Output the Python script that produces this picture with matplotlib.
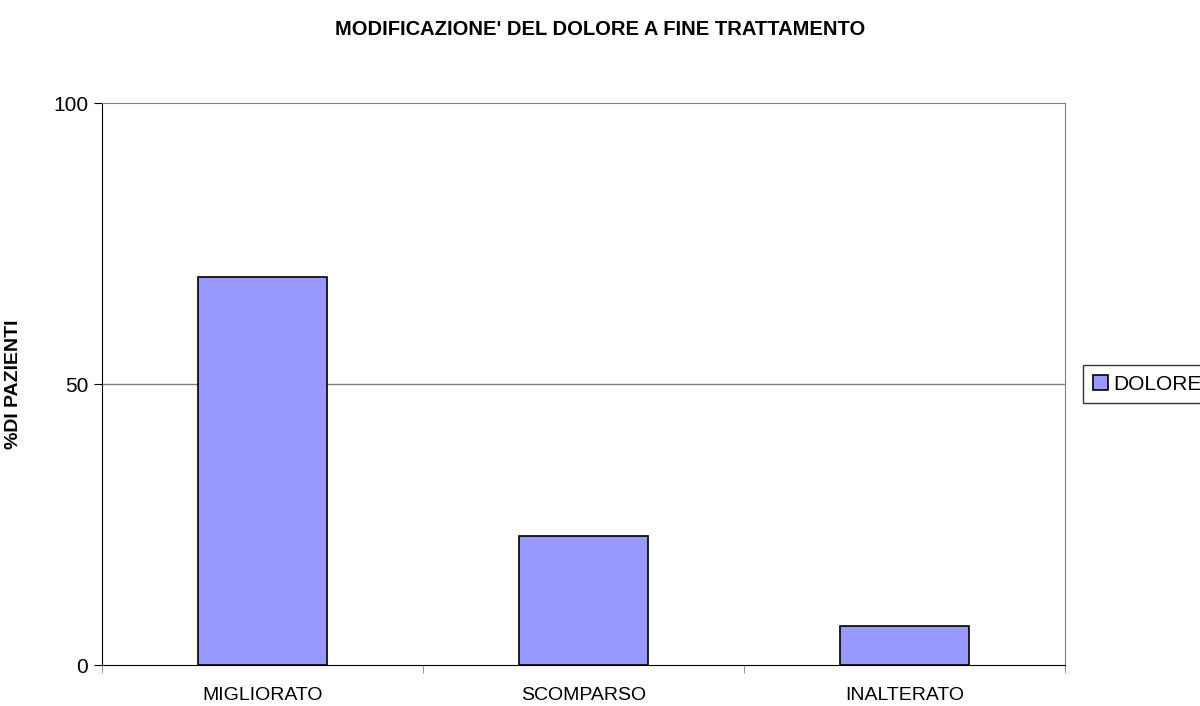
import numpy as np
import matplotlib.pyplot as plt

categories = ["MIGLIORATO", "SCOMPARSO", "INALTERATO"]
dolore = [69, 23, 7]

plt.rcParams['font.family'] = ['Liberation Sans', 'DejaVu Sans']

fig = plt.figure(figsize=(12, 7.06), dpi=100)
ax = fig.add_axes([0.085, 0.058, 0.8025, 0.796])

x = np.arange(len(categories))
ax.bar(x, dolore, width=0.4, color='#9999ff', edgecolor='black', linewidth=1.2,
       label='DOLORE', zorder=3)

ax.set_xlim(-0.5, 2.5)
ax.set_ylim(0, 100)
ax.set_yticks([0, 50, 100])
ax.set_xticks(x)
ax.set_xticklabels(categories, fontsize=14)
ax.set_xticks([-0.5, 0.5, 1.5, 2.5], minor=True)
ax.tick_params(axis='x', which='major', length=0, pad=16)
ax.tick_params(axis='x', which='minor', length=6, color='#808080')
ax.tick_params(axis='y', labelsize=15, length=6, color='black', pad=4)
ax.axhline(50, color='#808080', linewidth=1, zorder=1)

for side in ['top', 'right']:
    ax.spines[side].set_color('#808080')
for side in ['left', 'bottom']:
    ax.spines[side].set_color('black')

ax.set_ylabel('%DI PAZIENTI', fontsize=14, fontweight='bold')
ax.yaxis.set_label_coords(-0.083, 0.5)
fig.text(0.5, 0.958, "MODIFICAZIONE' DEL DOLORE A FINE TRATTAMENTO",
         ha='center', va='center', fontsize=14.5, fontweight='bold')

leg = ax.legend(loc='center left', bbox_to_anchor=(1.019, 0.5), fontsize=15,
                frameon=True, fancybox=False, edgecolor='black',
                handlelength=0.75, handleheight=0.75, handletextpad=0.25,
                borderpad=0.45, borderaxespad=0)
leg.get_frame().set_linewidth(1)

fig.savefig('out.png', dpi=100)
